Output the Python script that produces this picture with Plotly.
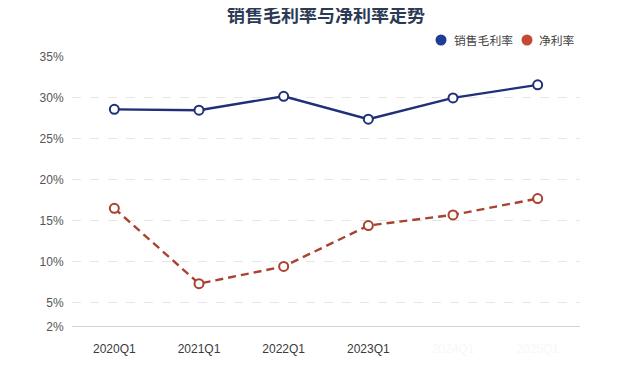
import plotly.graph_objects as go

categories = ["2020Q1", "2021Q1", "2022Q1", "2023Q1", "2024Q1", "2025Q1"]
gross_margin = [28.6, 28.5, 30.2, 27.4, 30.0, 31.6]
net_margin = [16.5, 7.3, 9.4, 14.4, 15.7, 17.7]
y_ticks = [2, 5, 10, 15, 20, 25, 30, 35]
y_tick_labels = ["2%", "5%", "10%", "15%", "20%", "25%", "30%", "35%"]
hidden_labels = {"2024Q1", "2025Q1"}
series_names = ["销售毛利率", "净利率"]
chart_title = "销售毛利率与净利率走势"

blue = "#1f2f78"
red = "#a9432f"
blue_leg = "#1f3c96"
red_leg = "#c44a33"

x_ticktext = [
    ('<span style="color:#f8f8f8">%s</span>' % c) if c in hidden_labels else c
    for c in categories
]

fig = go.Figure()
fig.add_trace(go.Scatter(
    x=categories, y=gross_margin, mode="lines+markers", name=series_names[0],
    line=dict(color=blue, width=2.4),
    marker=dict(symbol="circle", size=9, color="white", line=dict(color=blue, width=2)),
    showlegend=False,
))
fig.add_trace(go.Scatter(
    x=categories, y=net_margin, mode="lines+markers", name=series_names[1],
    line=dict(color=red, width=2.4, dash="8px,5px"),
    marker=dict(symbol="circle", size=9, color="white", line=dict(color=red, width=2)),
    showlegend=False,
))

fig.update_layout(
    width=640, height=386,
    margin=dict(l=64, r=68, t=49, b=67),
    paper_bgcolor="white", plot_bgcolor="white",
    font=dict(family="Liberation Sans, Noto Sans CJK SC, sans-serif", size=12, color="#555"),
    showlegend=False,
    xaxis=dict(
        type="category", categoryorder="array", categoryarray=categories,
        range=[-0.5, len(categories) - 0.5],
        tickmode="array", tickvals=categories, ticktext=x_ticktext,
        showgrid=False, zeroline=False, showline=False,
        ticks="outside", ticklen=11, tickcolor="rgba(0,0,0,0)",
        tickfont=dict(size=12, color="#3a3a3a"),
    ),
    yaxis=dict(
        range=[2, 35], tickmode="array", tickvals=y_ticks, ticktext=y_tick_labels,
        showgrid=True, gridcolor="#e6e6e6", griddash="dash", gridwidth=1,
        zeroline=False, showline=False,
        ticks="outside", ticklen=5, tickcolor="rgba(0,0,0,0)",
        tickfont=dict(size=12, color="#555"),
    ),
)

# title as a centred annotation above the plot
fig.add_annotation(text="<b>%s</b>" % chart_title, xref="paper", yref="paper",
                   x=0.5, y=1.159, xanchor="center", yanchor="middle",
                   showarrow=False,
                   font=dict(family="Noto Sans CJK SC, sans-serif", size=18, color="#2c3a55"))

fig.add_shape(type="line", xref="paper", yref="y", x0=0, x1=1, y0=2, y1=2,
              line=dict(color="#c4c4c4", width=1.5))

# legend (dot + label) placed at top-right
legend_items = [
    (series_names[0], blue_leg, 0.7264, 0.748),
    (series_names[1], red_leg, 0.8957, 0.9154),
]
for name, col, xdot, xtxt in legend_items:
    fig.add_shape(type="circle", xref="paper", yref="paper",
                  xsizemode="pixel", ysizemode="pixel",
                  xanchor=xdot, yanchor=1.063,
                  x0=-5.5, x1=5.5, y0=-5.5, y1=5.5,
                  fillcolor=col, line=dict(width=0))
    fig.add_annotation(text=name, xref="paper", yref="paper",
                       x=xtxt, y=1.063, xanchor="left", yanchor="middle",
                       showarrow=False,
                       font=dict(family="Noto Sans CJK SC, sans-serif", size=11.8, color="#444"))

fig.write_html("out.html")
